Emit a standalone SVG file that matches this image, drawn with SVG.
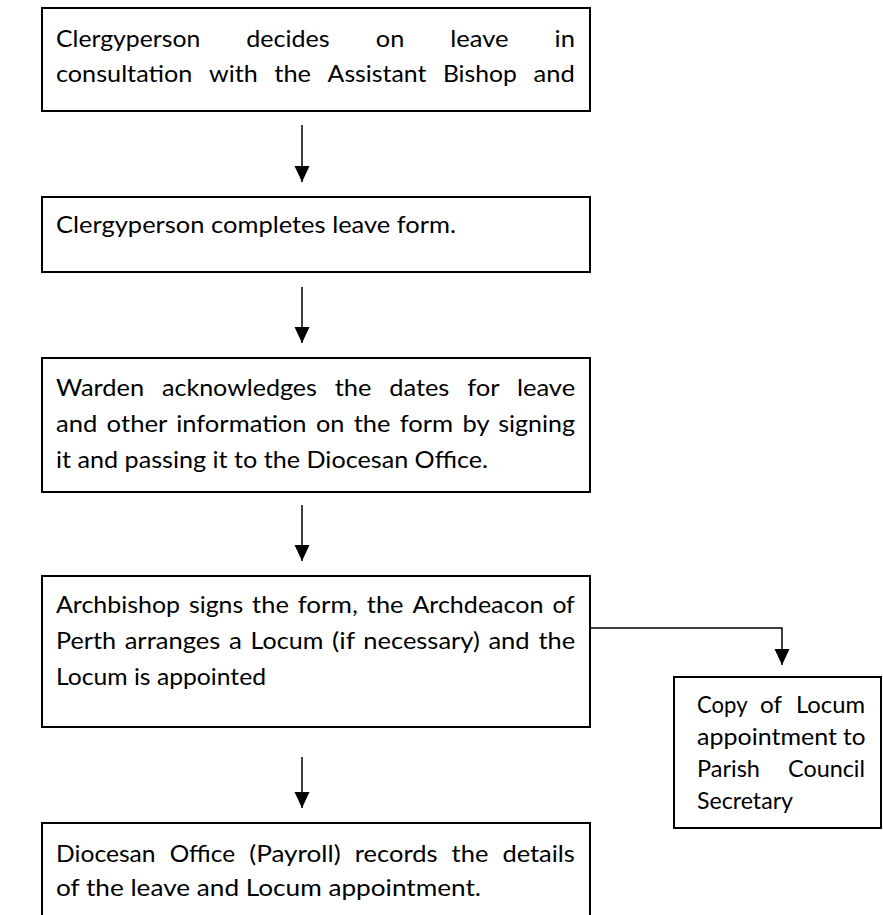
<svg xmlns="http://www.w3.org/2000/svg" width="883" height="915" viewBox="0 0 883 915">
<style>
  .box { fill: #ffffff; stroke: #000000; stroke-width: 2; }
  .conn { fill: none; stroke: #000000; stroke-width: 1.5; }
  text { font-family: Lato, "Open Sans", "Liberation Sans", sans-serif; font-size: 24px; fill: #000000; }
</style>
<defs>
  <marker id="ah" markerUnits="userSpaceOnUse" markerWidth="16" markerHeight="16" refX="16" refY="7.5" orient="auto">
    <path d="M0,0 L16,7.5 L0,15 Z" fill="#000000"/>
  </marker>
</defs>
<rect width="883" height="915" fill="#ffffff"/>

<g id="connectors">
  <line class="conn" x1="302" y1="125" x2="302" y2="182" marker-end="url(#ah)"/>
  <line class="conn" x1="302" y1="287" x2="302" y2="343" marker-end="url(#ah)"/>
  <line class="conn" x1="302" y1="505" x2="302" y2="561" marker-end="url(#ah)"/>
  <line class="conn" x1="302" y1="757" x2="302" y2="808" marker-end="url(#ah)"/>
  <path class="conn" d="M590,628 H782 V665" marker-end="url(#ah)"/>
</g>

<g id="node1">
  <rect class="box" x="42" y="8" width="548" height="103"/>
  <text y="47"><tspan x="56" textLength="144.3" lengthAdjust="spacingAndGlyphs">Clergyperson</tspan> <tspan x="246.3" textLength="83.4" lengthAdjust="spacingAndGlyphs">decides</tspan> <tspan x="375.8" textLength="28.5" lengthAdjust="spacingAndGlyphs">on</tspan> <tspan x="450.3" textLength="58.3" lengthAdjust="spacingAndGlyphs">leave</tspan> <tspan x="554.6" textLength="20.4" lengthAdjust="spacingAndGlyphs">in</tspan></text>
  <text y="82"><tspan x="56" textLength="136.4" lengthAdjust="spacingAndGlyphs">consultation</tspan> <tspan x="209" textLength="48.7" lengthAdjust="spacingAndGlyphs">with</tspan> <tspan x="274.3" textLength="36.7" lengthAdjust="spacingAndGlyphs">the</tspan> <tspan x="327.6" textLength="98.7" lengthAdjust="spacingAndGlyphs">Assistant</tspan> <tspan x="442.9" textLength="74" lengthAdjust="spacingAndGlyphs">Bishop</tspan> <tspan x="533.5" textLength="41.3" lengthAdjust="spacingAndGlyphs">and</tspan></text>
</g>

<g id="node2">
  <rect class="box" x="42" y="197" width="548" height="75"/>
  <text x="56" y="233" textLength="400" lengthAdjust="spacingAndGlyphs">Clergyperson completes leave form.</text>
</g>

<g id="node3">
  <rect class="box" x="42" y="358" width="548" height="134"/>
  <text y="396"><tspan x="56" textLength="88.2" lengthAdjust="spacingAndGlyphs">Warden</tspan> <tspan x="162" textLength="154.9" lengthAdjust="spacingAndGlyphs">acknowledges</tspan> <tspan x="334.7" textLength="36.7" lengthAdjust="spacingAndGlyphs">the</tspan> <tspan x="389.2" textLength="60.2" lengthAdjust="spacingAndGlyphs">dates</tspan> <tspan x="467.2" textLength="31.9" lengthAdjust="spacingAndGlyphs">for</tspan> <tspan x="516.9" textLength="58.3" lengthAdjust="spacingAndGlyphs">leave</tspan></text>
  <text y="432"><tspan x="56" textLength="41.3" lengthAdjust="spacingAndGlyphs">and</tspan> <tspan x="106.6" textLength="60.3" lengthAdjust="spacingAndGlyphs">other</tspan> <tspan x="176.2" textLength="130.4" lengthAdjust="spacingAndGlyphs">information</tspan> <tspan x="315.9" textLength="28.5" lengthAdjust="spacingAndGlyphs">on</tspan> <tspan x="353.7" textLength="36.7" lengthAdjust="spacingAndGlyphs">the</tspan> <tspan x="399.7" textLength="53.5" lengthAdjust="spacingAndGlyphs">form</tspan> <tspan x="462.5" textLength="26.4" lengthAdjust="spacingAndGlyphs">by</tspan> <tspan x="498.2" textLength="76.7" lengthAdjust="spacingAndGlyphs">signing</tspan></text>
  <text x="56" y="468" textLength="432" lengthAdjust="spacingAndGlyphs">it and passing it to the Diocesan Office.</text>
</g>

<g id="node4">
  <rect class="box" x="42" y="576" width="548" height="151"/>
  <text y="613"><tspan x="56" textLength="124.1" lengthAdjust="spacingAndGlyphs">Archbishop</tspan> <tspan x="189" textLength="54.2" lengthAdjust="spacingAndGlyphs">signs</tspan> <tspan x="252.1" textLength="36.7" lengthAdjust="spacingAndGlyphs">the</tspan> <tspan x="297.7" textLength="60.2" lengthAdjust="spacingAndGlyphs">form,</tspan> <tspan x="366.8" textLength="36.7" lengthAdjust="spacingAndGlyphs">the</tspan> <tspan x="412.4" textLength="131.1" lengthAdjust="spacingAndGlyphs">Archdeacon</tspan> <tspan x="552.4" textLength="22.4" lengthAdjust="spacingAndGlyphs">of</tspan></text>
  <text y="649"><tspan x="56" textLength="60" lengthAdjust="spacingAndGlyphs">Perth</tspan> <tspan x="124.7" textLength="95.6" lengthAdjust="spacingAndGlyphs">arranges</tspan> <tspan x="229" textLength="12.9" lengthAdjust="spacingAndGlyphs">a</tspan> <tspan x="250.6" textLength="72.7" lengthAdjust="spacingAndGlyphs">Locum</tspan> <tspan x="332" textLength="22.6" lengthAdjust="spacingAndGlyphs">(if</tspan> <tspan x="363.3" textLength="116.4" lengthAdjust="spacingAndGlyphs">necessary)</tspan> <tspan x="488.4" textLength="41.3" lengthAdjust="spacingAndGlyphs">and</tspan> <tspan x="538.4" textLength="36.7" lengthAdjust="spacingAndGlyphs">the</tspan></text>
  <text x="56" y="685" textLength="210" lengthAdjust="spacingAndGlyphs">Locum is appointed</text>
</g>

<g id="node5">
  <rect class="box" x="42" y="823" width="548" height="120"/>
  <text y="862"><tspan x="56" textLength="99.6" lengthAdjust="spacingAndGlyphs">Diocesan</tspan> <tspan x="169.7" textLength="65.4" lengthAdjust="spacingAndGlyphs">Office</tspan> <tspan x="249.2" textLength="91.5" lengthAdjust="spacingAndGlyphs">(Payroll)</tspan> <tspan x="354.8" textLength="82.7" lengthAdjust="spacingAndGlyphs">records</tspan> <tspan x="451.6" textLength="36.7" lengthAdjust="spacingAndGlyphs">the</tspan> <tspan x="502.4" textLength="72.5" lengthAdjust="spacingAndGlyphs">details</tspan></text>
  <text x="56" y="896" textLength="425" lengthAdjust="spacingAndGlyphs">of the leave and Locum appointment.</text>
</g>

<g id="node6">
  <rect class="box" x="674" y="677" width="207" height="151"/>
  <text y="713"><tspan x="697" textLength="50" lengthAdjust="spacingAndGlyphs">Copy</tspan> <tspan x="760" textLength="21.6" lengthAdjust="spacingAndGlyphs">of</tspan> <tspan x="796" textLength="69" lengthAdjust="spacingAndGlyphs">Locum</tspan></text>
  <text y="745"><tspan x="697" textLength="140" lengthAdjust="spacingAndGlyphs">appointment</tspan> <tspan x="843" textLength="22.4" lengthAdjust="spacingAndGlyphs">to</tspan></text>
  <text y="777"><tspan x="697" textLength="63" lengthAdjust="spacingAndGlyphs">Parish</tspan> <tspan x="788" textLength="77" lengthAdjust="spacingAndGlyphs">Council</tspan></text>
  <text x="697" y="809" textLength="96" lengthAdjust="spacingAndGlyphs">Secretary</text>
</g>
</svg>
